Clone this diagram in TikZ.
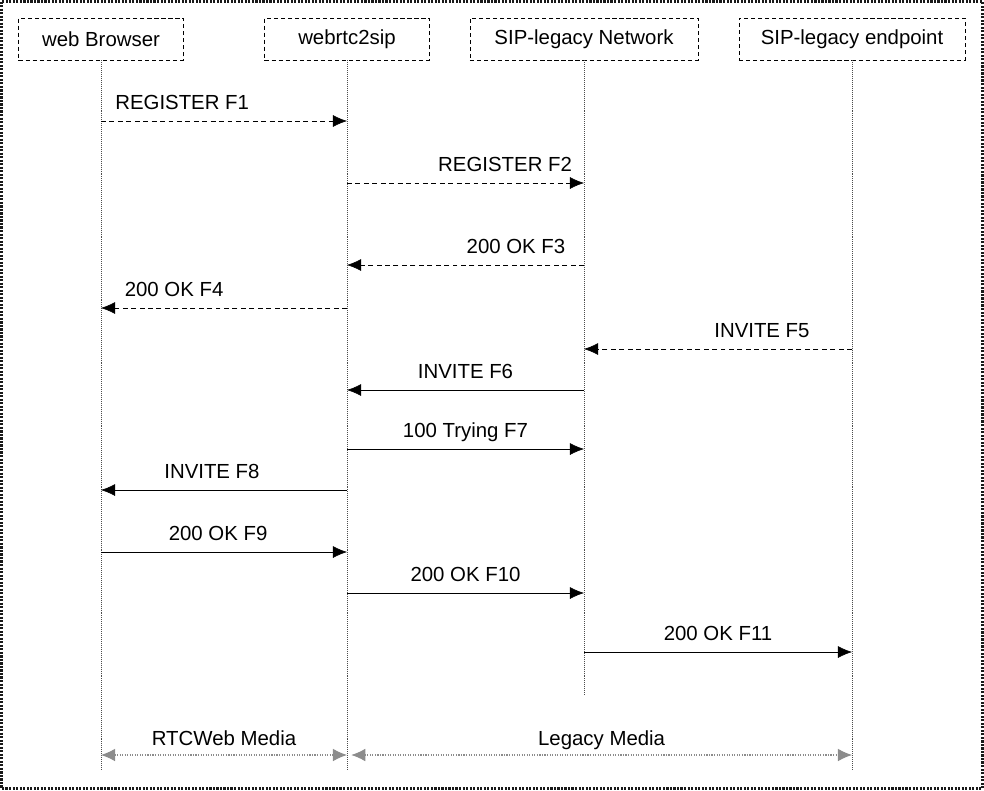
\documentclass[tikz,border=0pt]{standalone}
\usepackage{fontspec}
\setmainfont{Liberation Sans}
\usepackage{tikz}
\usetikzlibrary{arrows.meta, positioning}

\begin{document}
\begin{tikzpicture}[x=0.025cm, y=-0.025cm,
        actor/.style={draw, densely dashed, thin, minimum height=1.05cm, inner sep=0pt, font=\fontsize{14.5}{17}\selectfont},
        life/.style={densely dotted, thin, black!70},
        sig/.style={thin, -{Latex[length=10pt,width=8.5pt]}},
        dsig/.style={sig, dash pattern=on 3.5pt off 2.5pt},
        media/.style={densely dotted, thick, black!45, {Latex[length=10pt,width=9pt]}-{Latex[length=10pt,width=9pt]}},
        lbl/.style={anchor=base, yshift=8pt, inner sep=0pt, text=black, font=\fontsize{14.5}{17}\selectfont}]

        \useasboundingbox (0,0) rectangle (984,790);
        \draw[densely dotted, line width=1.5pt, black!90] (1.5,1.5) rectangle (982.5,788.5);

        \node[actor, minimum width=4.125cm]   (wb)    at (101,39)    {web Browser};
        \node[actor, minimum width=4.125cm]   (rtc)   at (347,39)    {webrtc2sip};
        \node[actor, minimum width=5.7cm]     (net)   at (584,39)    {SIP-legacy Network};
        \node[actor, minimum width=5.65cm]    (ep)    at (852,39)    {SIP-legacy endpoint};

        \coordinate (endl) at (0,770);
        \coordinate (endn) at (0,695);

        \draw[life] (wb.south)  -- (wb |- endl);
        \draw[life] (rtc.south) -- (rtc |- endl);
        \draw[life] (net.south) -- (net |- endn);
        \draw[life] (ep.south)  -- (ep |- endl);

        \coordinate (m1)  at (0,121);
        \coordinate (m2)  at (0,183);
        \coordinate (m3)  at (0,265);
        \coordinate (m4)  at (0,308);
        \coordinate (m5)  at (0,349);
        \coordinate (m6)  at (0,390);
        \coordinate (m7)  at (0,449);
        \coordinate (m8)  at (0,490);
        \coordinate (m9)  at (0,552);
        \coordinate (m10) at (0,593);
        \coordinate (m11) at (0,652);
        \coordinate (md)  at (0,755);

        \path   (wb |- m1)   edge[dsig] node[lbl, pos=0.33]  {REGISTER F1} (rtc |- m1)
                (rtc |- m2)  edge[dsig] node[lbl, pos=0.667] {REGISTER F2} (net |- m2)
                (net |- m3)  edge[dsig] node[lbl, pos=0.287] {200 OK F3} (rtc |- m3)
                (rtc |- m4)  edge[dsig] node[lbl, pos=0.703] {200 OK F4} (wb |- m4)
                (ep |- m5)   edge[dsig] node[lbl, pos=0.336] {INVITE F5} (net |- m5)
                (net |- m6)  edge[sig]  node[lbl, pos=0.5]   {INVITE F6} (rtc |- m6)
                (rtc |- m7)  edge[sig]  node[lbl, pos=0.5]   {100 Trying F7} (net |- m7)
                (rtc |- m8)  edge[sig]  node[lbl, pos=0.549] {INVITE F8} (wb |- m8)
                (wb |- m9)   edge[sig]  node[lbl, pos=0.476] {200 OK F9} (rtc |- m9)
                (rtc |- m10) edge[sig]  node[lbl, pos=0.5]   {200 OK F10} (net |- m10)
                (net |- m11) edge[sig]  node[lbl, pos=0.5]   {200 OK F11} (ep |- m11)
                ;

        \path   (wb |- md)   edge[media] node[lbl, yshift=-1pt] {RTCWeb Media} (rtc |- md)
                ([xshift=3pt]rtc |- md) edge[media] node[lbl, yshift=-1pt] {Legacy Media} (ep |- md)
                ;
\end{tikzpicture}
\end{document}
